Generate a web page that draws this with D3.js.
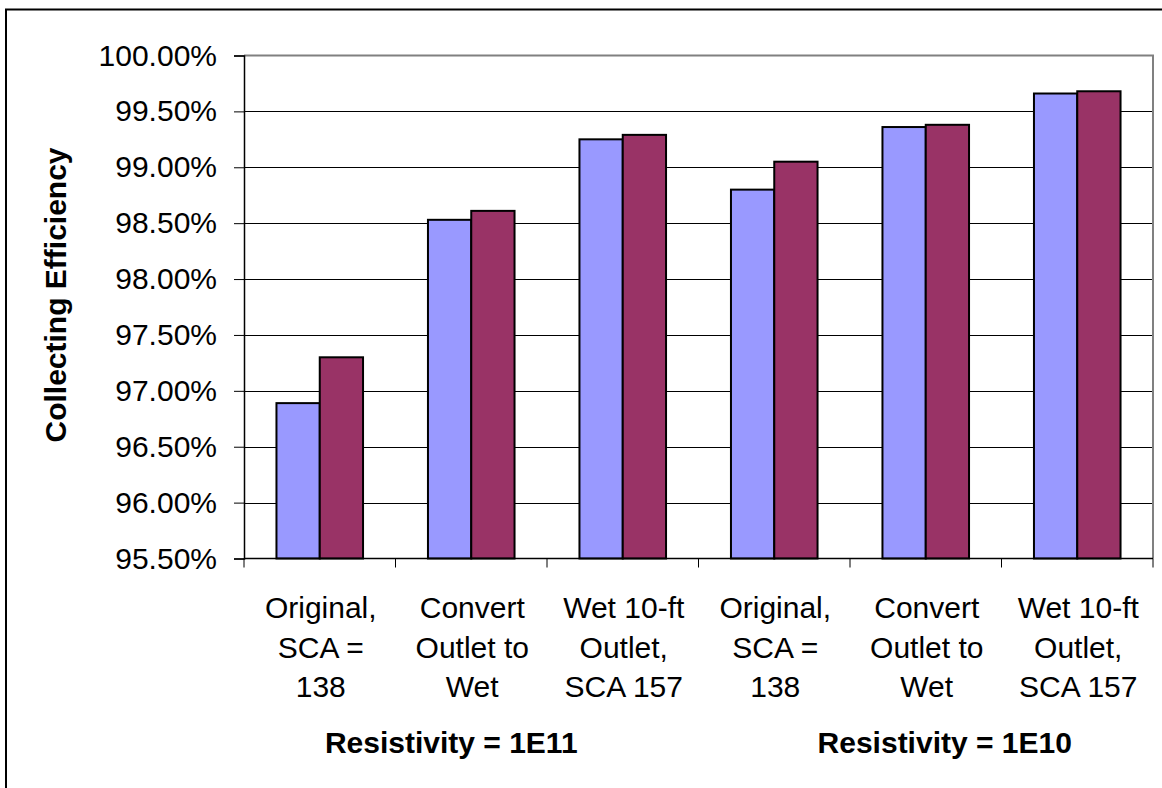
<!DOCTYPE html>
<html>
<head>
<meta charset="utf-8">
<script src="https://cdn.jsdelivr.net/npm/d3@7"></script>
<style>
  html, body { margin: 0; padding: 0; background: #fff; }
  svg { display: block; font-family: Arial, "Liberation Sans", sans-serif; }
</style>
</head>
<body>
<svg id="chart" width="1162" height="788"></svg>
<script>
// Category labels (one entry per bar group, split into lines)
const categories = [
  ["Original,", "SCA =", "138"],
  ["Convert", "Outlet to", "Wet"],
  ["Wet 10-ft", "Outlet,", "SCA 157"],
  ["Original,", "SCA =", "138"],
  ["Convert", "Outlet to", "Wet"],
  ["Wet 10-ft", "Outlet,", "SCA 157"]
];
// Collecting efficiency (%) for the two series
const seriesA = [96.89, 98.53, 99.25, 98.80, 99.36, 99.66];
const seriesB = [97.30, 98.61, 99.29, 99.05, 99.38, 99.68];
const seriesColors = ["#9999FF", "#993366"];
// Y axis ticks (%)
const yTicks = [95.5, 96.0, 96.5, 97.0, 97.5, 98.0, 98.5, 99.0, 99.5, 100.0];
// Resistivity group captions, each covering three categories
const groups = [
  { label: "Resistivity = 1E11", first: 0, last: 2 },
  { label: "Resistivity = 1E10", first: 3, last: 5 }
];
const yTitle = "Collecting Efficiency";

const svg = d3.select("#chart");
const plot = { left: 244, right: 1153, top: 55.5, bottom: 558.5 };

svg.append("rect").attr("width", 1162).attr("height", 788).attr("fill", "#fff");
// chart frame (runs off the right/bottom edges)
svg.append("rect")
  .attr("x", 6).attr("y", 9.5).attr("width", 1300).attr("height", 900)
  .attr("fill", "none").attr("stroke", "#000").attr("stroke-width", 2);

const idx = d3.range(categories.length);
const x0 = d3.scaleBand().domain(idx).range([plot.left, plot.right]).padding(0);
const x1 = d3.scaleBand().domain([0, 1]).range([0, x0.bandwidth()])
  .paddingInner(0).paddingOuter(0.75);
const y = d3.scaleLinear().domain([95.5, 100]).range([plot.bottom, plot.top]);

// horizontal gridlines
svg.append("g").selectAll("line").data(yTicks.filter(t => t > 95.5 && t < 100)).join("line")
  .attr("x1", plot.left).attr("x2", plot.right)
  .attr("y1", d => Math.round(y(d)) + 0.5).attr("y2", d => Math.round(y(d)) + 0.5)
  .attr("stroke", "#000").attr("stroke-width", 1);

// plot area border (top and right)
svg.append("path")
  .attr("d", `M${plot.left},${plot.top}H${plot.right}V${plot.bottom}`)
  .attr("fill", "none").attr("stroke", "#808080").attr("stroke-width", 2);

// bars
const series = [seriesA, seriesB];
series.forEach((vals, s) => {
  svg.append("g").selectAll("rect").data(vals).join("rect")
    .attr("x", (d, i) => x0(i) + x1(s))
    .attr("y", d => y(d))
    .attr("width", x1.bandwidth())
    .attr("height", d => y(95.5) - y(d))
    .attr("fill", seriesColors[s])
    .attr("stroke", "#000").attr("stroke-width", 2);
});

// y axis
const yAxis = d3.axisLeft(y).tickValues(yTicks).tickSize(10).tickPadding(17)
  .tickFormat(d => d3.format(".2f")(d) + "%");
const gy = svg.append("g").attr("transform", `translate(${plot.left},0)`).call(yAxis);
gy.select(".domain").attr("stroke", "#000").attr("stroke-width", 1.5);
gy.selectAll(".tick line").attr("stroke", "#000");
gy.selectAll(".tick text").attr("font-size", 30).attr("fill", "#000")
  .attr("font-family", "Arial, 'Liberation Sans', sans-serif");

// x axis: ticks at category boundaries
const gx = svg.append("g");
gx.append("line").attr("x1", plot.left).attr("x2", plot.right)
  .attr("y1", plot.bottom).attr("y2", plot.bottom)
  .attr("stroke", "#000").attr("stroke-width", 1.5);
gx.selectAll("line.tk").data(d3.range(categories.length + 1)).join("line")
  .attr("class", "tk")
  .attr("x1", i => i < categories.length ? x0(i) : plot.right)
  .attr("x2", i => i < categories.length ? x0(i) : plot.right)
  .attr("y1", plot.bottom).attr("y2", plot.bottom + 9)
  .attr("stroke", "#000").attr("stroke-width", 1);

// category labels
const catText = svg.append("g").selectAll("text").data(categories).join("text")
  .attr("text-anchor", "middle").attr("font-size", 30).attr("fill", "#000")
  .attr("x", (d, i) => x0(i) + x0.bandwidth() / 2 + 1);
catText.selectAll("tspan").data(d => d).join("tspan")
  .attr("x", function () { return d3.select(this.parentNode).attr("x"); })
  .attr("y", (d, j) => 618 + j * 39.5)
  .text(d => d);

// group captions
svg.append("g").selectAll("text").data(groups).join("text")
  .attr("x", (g, k) => (x0(g.first) + x0(g.last) + x0.bandwidth()) / 2 + (k === 0 ? -20 : 19))
  .attr("y", 753)
  .attr("text-anchor", "middle").attr("font-size", 30).attr("font-weight", "bold")
  .text(g => g.label);

// y axis title
svg.append("text")
  .attr("transform", `translate(66,295) rotate(-90)`)
  .attr("text-anchor", "middle").attr("font-size", 30).attr("font-weight", "bold")
  .text(yTitle);
</script>
</body>
</html>
